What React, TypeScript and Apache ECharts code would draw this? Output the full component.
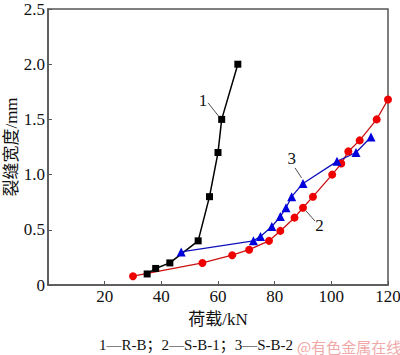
import React, { useEffect, useRef } from "react";
import * as echarts from "echarts";

const xTicks = [0, 20, 40, 60, 80, 100, 120];
const yTicks = [0, 0.5, 1.0, 1.5, 2.0, 2.5];

const s1RB: [number, number][] = [
  [35, 0.1], [38, 0.15], [43, 0.2], [53, 0.4], [57, 0.8], [60, 1.2], [61.3, 1.5], [67, 2.0],
];
const s2SB1: [number, number][] = [
  [30, 0.08], [54.5, 0.2], [65, 0.27], [71, 0.32], [78, 0.4], [82, 0.49], [87, 0.61], [90, 0.7],
  [93.5, 0.8], [100.3, 1.0], [103.5, 1.1], [106, 1.21], [110, 1.31], [116, 1.5], [120, 1.68],
];
const s3SB2: [number, number][] = [
  [47, 0.3], [72.5, 0.4], [75, 0.44], [79, 0.53], [82, 0.62], [84, 0.7], [86, 0.8], [90, 0.92],
  [102, 1.12], [108.7, 1.2], [114, 1.34],
];

const curveLabels = ["1", "2", "3"];
const labelPos: [number, number][] = [[54.7, 1.67], [95.8, 0.536], [86, 1.146]];
const leaderLines: [[number, number], [number, number]][] = [
  [[56.5, 1.65], [60.5, 1.52]],
  [[91.1, 0.67], [94.2, 0.58]],
  [[87.2, 1.06], [89.5, 0.97]],
];

const caption = "1—R-B；2—S-B-1；3—S-B-2";
const watermark = "@有色金属在线";
const xName = "荷载/kN";
const yName = "裂缝宽度/mm";

const FONT = "'Liberation Serif', 'Times New Roman', 'Noto Sans CJK SC', serif";

export default function App() {
  const ref = useRef<HTMLDivElement>(null);
  useEffect(() => {
    if (!ref.current) return;
    const chart = echarts.init(ref.current, null, { renderer: "svg" });
    const axisLine = { show: true, lineStyle: { color: "#555", width: 1.5 } };
    const leaderSeries = {
      type: "line",
      data: [],
      markLine: {
        silent: true,
        symbol: "none",
        label: { show: false },
        lineStyle: { color: "#222", width: 0.8, type: "solid" },
        data: leaderLines.map((l) => [{ coord: l[0] }, { coord: l[1] }]),
      },
    };
    chart.setOption({
      animation: false,
      textStyle: { fontFamily: FONT },
      grid: {
        left: 48,
        right: 12,
        top: 9,
        bottom: 70,
        containLabel: false,
        outerBoundsMode: "none",
        show: true,
        borderColor: "#555",
        borderWidth: 1.5,
      },
      xAxis: {
        type: "value",
        min: xTicks[0],
        max: xTicks[xTicks.length - 1],
        interval: 20,
        name: xName,
        nameLocation: "middle",
        nameGap: 26,
        nameMoveOverlap: false,
        nameTextStyle: { fontSize: 17, color: "#111", fontFamily: FONT },
        axisLine,
        axisTick: { show: true, inside: true, length: 4, lineStyle: { color: "#555" } },
        splitLine: { show: false },
        axisLabel: {
          fontSize: 17,
          color: "#111",
          margin: 3,
          fontFamily: FONT,
          formatter: (v: number) => (v === 0 ? "" : String(v)),
        },
      },
      yAxis: {
        type: "value",
        min: yTicks[0],
        max: yTicks[yTicks.length - 1],
        interval: 0.5,
        name: yName,
        nameLocation: "middle",
        nameGap: 28,
        nameMoveOverlap: false,
        nameRotate: 90,
        nameTextStyle: { fontSize: 17, color: "#111", fontFamily: FONT },
        axisLine,
        axisTick: { show: true, inside: true, length: 4, lineStyle: { color: "#555" } },
        splitLine: { show: false },
        axisLabel: {
          fontSize: 17,
          color: "#111",
          margin: 3,
          fontFamily: FONT,
          formatter: (v: number) => (v === 0 ? "0" : v.toFixed(1)),
        },
      },
      series: [
        {
          type: "line",
          data: s1RB,
          symbol: "rect",
          symbolSize: 7,
          itemStyle: { color: "#000" },
          lineStyle: { color: "#000", width: 1.5 },
        },
        {
          type: "line",
          data: s2SB1,
          symbol: "circle",
          symbolSize: 8,
          itemStyle: { color: "#ee0000" },
          lineStyle: { color: "#cc1010", width: 1.3 },
        },
        {
          type: "line",
          data: s3SB2,
          symbol: "triangle",
          symbolSize: 9,
          itemStyle: { color: "#0000dd" },
          lineStyle: { color: "#1010bb", width: 1.3 },
        },
        leaderSeries,
      ],
    });
    const texts = curveLabels.map((t, i) => {
      const p = chart.convertToPixel({ gridIndex: 0 }, labelPos[i]) as number[];
      return {
        type: "text",
        x: p[0],
        y: p[1],
        style: { text: t, fontSize: 17, fill: "#111", fontFamily: FONT, align: "center", verticalAlign: "middle" },
      };
    });
    chart.setOption({
      graphic: [
        ...texts,
        {
          type: "text",
          x: 196,
          y: 345,
          style: { text: caption, fontSize: 15, fill: "#111", fontFamily: FONT, align: "center", verticalAlign: "middle" },
        },
        {
          type: "text",
          x: 297,
          y: 346,
          style: { text: watermark, fontSize: 15, fill: "#f0a8a8", fontFamily: "'Noto Sans CJK SC', sans-serif", align: "left", verticalAlign: "middle" },
        },
      ],
    });
    return () => chart.dispose();
  }, []);
  return <div ref={ref} style={{ width: 400, height: 355, position: "absolute", left: 0, top: 0, background: "#fff" }} />;
}
